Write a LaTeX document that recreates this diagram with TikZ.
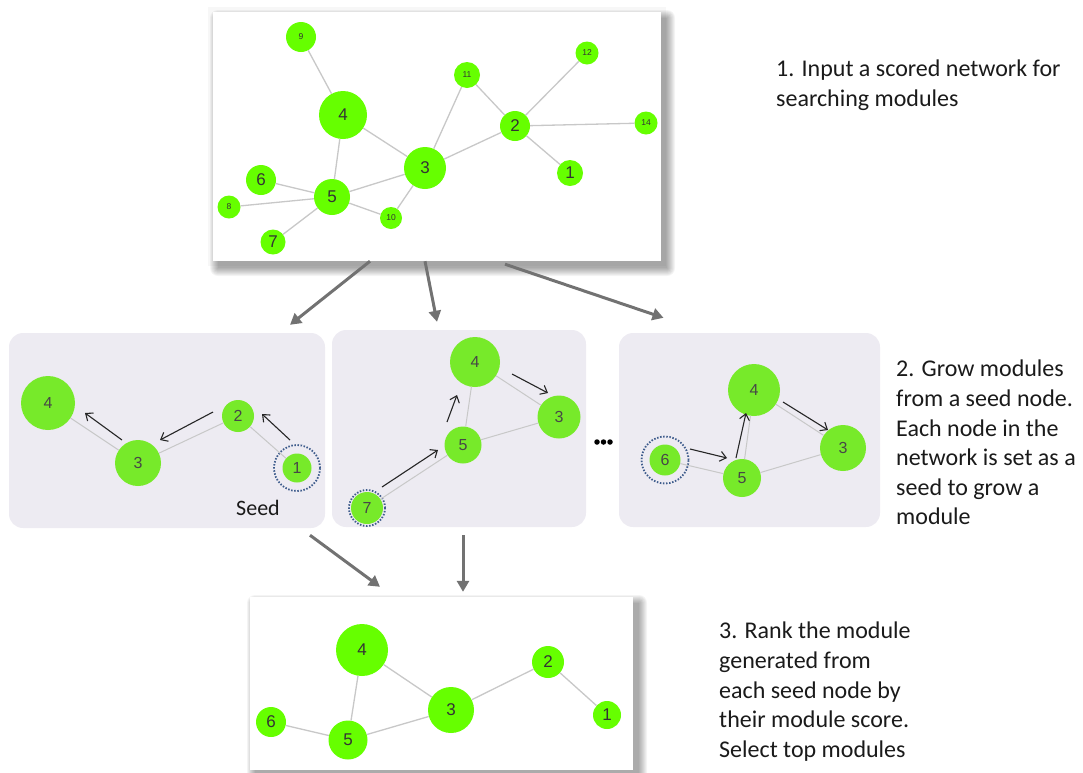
\documentclass[tikz,border=0pt]{standalone}
\usepackage{fontspec}
\setmainfont{Carlito}
\newfontfamily\labelfont{Liberation Sans}
\usetikzlibrary{arrows.meta,calc}

\definecolor{nodegreen}{HTML}{66FF00}
\definecolor{softgreen}{HTML}{77EA2A}
\definecolor{panelbg}{HTML}{EDEBF2}
\definecolor{edgegray}{HTML}{C8C8C8}
\definecolor{flowgray}{HTML}{727272}
\definecolor{seedblue}{HTML}{3E5C8C}
\definecolor{labelgray}{HTML}{333333}
\definecolor{caption}{HTML}{1A1A1A}

% soft drop shadow behind a white card: x1 y1 x2 y2
\newcommand{\cardshadow}[4]{%
  \foreach \b in {0,...,8}{%
    \fill[black,opacity=0.045,rounded corners=\b pt]
      (#1+5-\b,#2+6-\b) rectangle (#3+6+\b,#4+7+\b);
  }%
}

\tikzset{
  card/.style={draw=none, fill=white, inner sep=0},
  panel/.style={draw=none, fill=panelbg, rounded corners=14pt, inner sep=0},
  gnode/.style={circle, fill=nodegreen, inner sep=0, text=labelgray},
  snode/.style={circle, fill=softgreen, inner sep=0, text=labelgray!90!white,
                font=\labelfont\fontsize{16}{16}\selectfont},
  bigl/.style={font=\labelfont\fontsize{17}{17}\selectfont},
  tinyl/.style={font=\labelfont\fontsize{8.5}{8.5}\selectfont},
  link/.style={draw=edgegray, line width=1.3pt},
  growarrow/.style={draw=black!85, line width=1.1pt,
               -{Straight Barb[length=6pt,width=10pt,line width=1.1pt]}},
  flow/.style={draw=flowgray, line width=3pt,
               -{Triangle[length=11pt,width=12pt]}},
  seedring/.style={circle, draw=seedblue, line width=1.8pt,
                   dash pattern=on 1.5pt off 1.6pt, inner sep=0},
  note/.style={anchor=north west, inner sep=0, align=left, text=caption,
               font=\fontsize{24}{29.6}\selectfont},
  dot/.style={circle, fill=black, inner sep=0, minimum size=5.5pt}
}

\begin{document}
\begin{tikzpicture}[x=1pt,y=-1pt]
\useasboundingbox (0,0) rectangle (1083,772);

% ---------- input network ----------
\fill[black,opacity=0.03] (208,7) rectangle (666,266);
\cardshadow{213}{12}{661}{261}
\node[card, minimum width=448pt, minimum height=249pt] (top) at (437,136.5) {};

\node[gnode, tinyl, minimum size=30pt] (t9)  at (301,37)  {9};
\node[gnode, bigl,  minimum size=48pt] (t4)  at (343,115) {4};
\node[gnode, tinyl, minimum size=26pt] (t11) at (467,75)  {11};
\node[gnode, tinyl, minimum size=23pt] (t12) at (587,53)  {12};
\node[gnode, bigl,  minimum size=30pt] (t2)  at (515,126) {2};
\node[gnode, tinyl, minimum size=23pt] (t14) at (646,123) {14};
\node[gnode, bigl,  minimum size=42pt] (t3)  at (425,168) {3};
\node[gnode, bigl,  minimum size=26pt] (t1)  at (570,173) {1};
\node[gnode, bigl,  minimum size=30pt] (t6)  at (261,180) {6};
\node[gnode, bigl,  minimum size=36pt] (t5)  at (332,197) {5};
\node[gnode, tinyl, minimum size=23pt] (t8)  at (229,207) {8};
\node[gnode, tinyl, minimum size=22pt] (t10) at (391,218) {10};
\node[gnode, bigl,  minimum size=25pt] (t7)  at (273,242) {7};

\foreach \u/\v in {t9/t4, t4/t5, t4/t3, t3/t11, t3/t2, t3/t5, t3/t10,
                   t11/t2, t2/t12, t2/t14, t2/t1, t5/t6, t5/t8, t5/t7, t5/t10}
  \draw[link] (\u) -- (\v);

\node[note] (n1) at (776,60) {1. Input a scored network for\\searching modules};

% ---------- grown modules ----------
\node[panel, minimum width=316pt, minimum height=195pt] (p1) at (167,430.5) {};
\node[panel, minimum width=254pt, minimum height=197pt] (p2) at (459,428.5) {};
\node[panel, minimum width=261pt, minimum height=194pt] (p3) at (749.5,430) {};

% panel 1: seed 1
\node[snode, minimum size=54pt] (a4) at (48,403)  {4};
\node[snode, minimum size=46pt] (a3) at (138,463) {3};
\node[snode, minimum size=32pt] (a2) at (238,416) {2};
\node[snode, minimum size=29pt] (a1) at (297,468) {1};
\node[seedring, minimum size=46pt] (a1r) at (a1) {};
\foreach \u/\v in {a4/a3, a3/a2, a2/a1}
  \draw[link, line width=1pt] (\u) -- (\v);
\coordinate (g1s) at (290,440); \coordinate (g1e) at (262,414);
\coordinate (g2s) at (213,412); \coordinate (g2e) at (160,440);
\coordinate (g3s) at (122,440); \coordinate (g3e) at (85,413);
\draw[growarrow] (g1s) -- (g1e);
\draw[growarrow] (g2s) -- (g2e);
\draw[growarrow] (g3s) -- (g3e);
\node[inner sep=0, font=\fontsize{22}{22}\selectfont, text=caption] (seed) at (258,508) {Seed};

% panel 2: seed 7
\node[snode, minimum size=50pt] (b4) at (475,362) {4};
\node[snode, minimum size=43pt] (b3) at (559,417) {3};
\node[snode, minimum size=37pt] (b5) at (463,445) {5};
\node[snode, minimum size=32pt] (b7) at (367,508) {7};
\node[seedring, minimum size=36pt] (b7r) at (b7) {};
\foreach \u/\v in {b4/b3, b4/b5, b5/b3, b5/b7}
  \draw[link, line width=1pt] (\u) -- (\v);
\coordinate (h1s) at (382,487); \coordinate (h1e) at (438,450);
\coordinate (h2s) at (447,422); \coordinate (h2e) at (457,395);
\coordinate (h3s) at (512,374); \coordinate (h3e) at (548,393);
\draw[growarrow] (h1s) -- (h1e);
\draw[growarrow] (h2s) -- (h2e);
\draw[growarrow] (h3s) -- (h3e);

% ellipsis between panels
\node[dot] (e1) at (597,442) {};
\node[dot] (e2) at (603.5,442) {};
\node[dot] (e3) at (610,442) {};

% panel 3: seed 6
\node[snode, minimum size=52pt] (c4) at (754,390) {4};
\node[snode, minimum size=46pt] (c3) at (843,448) {3};
\node[snode, minimum size=38pt] (c5) at (742,478) {5};
\node[snode, minimum size=31pt] (c6) at (665,460) {6};
\node[seedring, minimum size=47pt] (c6r) at (c6) {};
\foreach \u/\v in {c6/c5, c5/c4, c4/c3, c5/c3}
  \draw[link, line width=1pt] (\u) -- (\v);
\coordinate (k1s) at (690,449); \coordinate (k1e) at (727,458);
\coordinate (k2s) at (736,458); \coordinate (k2e) at (746,413);
\coordinate (k3s) at (783,402); \coordinate (k3e) at (828,430);
\draw[growarrow] (k1s) -- (k1e);
\draw[growarrow] (k2s) -- (k2e);
\draw[growarrow] (k3s) -- (k3e);

\node[note] (n2) at (896,360) {2. Grow modules\\from a seed node.\\Each node in the\\network is set as a\\seed to grow a\\module};

% ---------- ranked module ----------
\cardshadow{250}{597}{633}{770}
\node[card, minimum width=383pt, minimum height=173pt] (bot) at (441.5,683.5) {};

\node[gnode, bigl, minimum size=52pt] (d4) at (362,650) {4};
\node[gnode, bigl, minimum size=32pt] (d2) at (548,662) {2};
\node[gnode, bigl, minimum size=46pt] (d3) at (451,710) {3};
\node[gnode, bigl, minimum size=28pt] (d1) at (607,715) {1};
\node[gnode, bigl, minimum size=30pt] (d6) at (271,722) {6};
\node[gnode, bigl, minimum size=39pt] (d5) at (348,740) {5};
\foreach \u/\v in {d4/d3, d4/d5, d3/d2, d2/d1, d3/d5, d6/d5}
  \draw[link] (\u) -- (\v);

\node[note] (n3) at (719,622) {3. Rank the module\\generated from\\each seed node by\\their module score.\\Select top modules};

% ---------- flow between stages ----------
\draw[flow] ([xshift=-67pt]top.south) -- ([xshift=123pt,yshift=8pt]p1.north);
\draw[flow] ([xshift=-12pt]top.south) -- ([xshift=-22pt,yshift=8pt]p2.north);
\draw[flow] ([xshift=68pt,yshift=-3pt]top.south) -- ([xshift=-86pt,yshift=15pt]p3.north);
\draw[flow] ([xshift=143pt,yshift=-7pt]p1.south) -- ([xshift=-61.5pt,yshift=10pt]bot.north);
\draw[flow] ([xshift=4pt,yshift=-8pt]p2.south) -- ([xshift=21.5pt,yshift=5pt]bot.north);
\end{tikzpicture}
\end{document}
